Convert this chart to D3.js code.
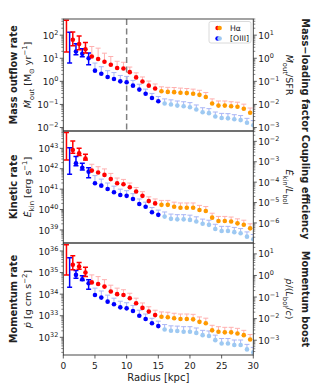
<!DOCTYPE html>
<html><head><meta charset="utf-8">
<script src="https://cdn.jsdelivr.net/npm/d3@7"></script>
<style>body{margin:0;background:#fff}svg{display:block}text{font-family:"DejaVu Sans",sans-serif;fill:#222}</style>
</head><body><svg id="c" width="318" height="389"></svg>
<script>
// ---------------- data ----------------
const haRadius = [0.5,1.5,2.5,3.5,4.5,5.5,6.5,7.5,8.5,9.5,10.5,11.5,12.5,13.5,14.5,15.5,16.5,17.5,18.5,19.5,20.5,21.5,22.5,23.5,24.5,25.5,26.5,27.5,28.5,29.5];
const o3Radius = [1,2,3,4,5,6,7,8,9,10,11,12,13,14,15,16,17,18,19,20,21,22,23,24,25,26,27,28,29,30];
const innerLimit = 15;      // kpc: inner (dark) vs outer (light) points
const dashRadius = 10;      // kpc: vertical dashed line
const SFR = 10;             // Msun/yr
const LBOL = 2.2e45;        // erg/s
const C_LIGHT = 3e10;       // cm/s
const xTicks = [0,5,10,15,20,25,30];

// Mass outflow rate [Msun/yr]
const haMout   = [89,63,41.7,24.5,12.0,9.3,7.1,5.2,3.8,3.6,2.5,1.48,0.98,0.65,0.49,0.37,0.35,0.34,0.32,0.31,0.29,0.26,0.21,0.11,0.089,0.089,0.083,0.079,0.065,0.044];
const haMoutHi = [437,138,93,48,32.3,27.4,16.6,11.9,7.4,6.7,4.15,2.34,1.55,1.03,0.77,0.58,0.55,0.54,0.51,0.49,0.46,0.41,0.33,0.174,0.141,0.141,0.131,0.125,0.103,0.070];
const haMoutLo = [18.6,34.7,23.4,16.7];
const o3Mout   = [29,19.5,15.5,10,2.9,2.14,1.55,1.26,1.0,0.91,0.65,0.44,0.29,0.19,0.138,0.110,0.100,0.089,0.083,0.076,0.060,0.046,0.042,0.030,0.026,0.025,0.023,0.021,0.016,0.0126];
const o3MoutHi = [135,42,25.7,16.7,6.2,4.3,2.9,2.4,1.8,1.64,1.1,0.75,0.46,0.30,0.22,0.174,0.158,0.141,0.131,0.120,0.095,0.072,0.066,0.047,0.041,0.040,0.036,0.033,0.025,0.020];
const o3MoutLo = [6.2,14.1,11.5,5.2];

// Kinetic rate [erg/s]
const haEkin   = [1.3e43,8.3e42,5.75e42,3.2e42,8.1e41,6.5e41,5.0e41,3.1e41,1.95e41,1.74e41,1.23e41,7.6e40,4.7e40,2.6e40,2.0e40,1.7e40,1.7e40,1.38e40,1.23e40,1.23e40,1.23e40,9.5e39,8.5e39,4.0e39,2.75e39,2.75e39,2.6e39,2.1e39,1.8e39,1.2e39];
const haEkinHi = [5.9e43,2.3e43,1.0e43,5.1e42,1.66e42,1.26e42,9.8e41,5.9e41,3.5e41,3.0e41,2.0e41,1.2e41,7.5e40,4.2e40,3.3e40,2.8e40,2.8e40,2.3e40,2.1e40,2.1e40,2.1e40,1.6e40,1.4e40,6.6e39,4.6e39,4.6e39,4.3e39,3.5e39,3.0e39,2.0e39];
const haEkinLo = [2.7e42,5.7e42,4.4e42,2.7e42];
const o3Ekin   = [2.4e42,1.86e42,1.12e42,7.2e41,1.95e41,1.48e41,1.02e41,7.1e40,5.2e40,4.7e40,3.3e40,1.86e40,1.38e40,7.4e39,5.5e39,4.5e39,3.5e39,3.3e39,3.3e39,3.1e39,2.6e39,2.0e39,1.78e39,1.12e39,8.9e38,8.9e38,7.8e38,6.9e38,4.7e38,3.5e38];
const o3EkinHi = [1.07e43,4.0e42,1.86e42,1.12e42,4.6e41,3.1e41,2.0e41,1.4e41,1.0e41,8.4e40,6.0e40,3.3e40,2.3e40,1.26e40,9.4e39,7.6e39,6.0e39,5.6e39,5.6e39,5.3e39,4.4e39,3.4e39,3.0e39,1.9e39,1.5e39,1.5e39,1.33e39,1.17e39,8.0e38,6.0e38];
const o3EkinLo = [5.4e41,1.4e42,8.7e41,3.6e41];

// Momentum rate [g cm s^-2]
const haPdot   = [3.9e35,2.3e35,1.9e35,1.0e35,3.5e34,2.95e34,2.24e34,1.32e34,1.0e34,9.1e33,6.5e33,3.8e33,2.3e33,1.55e33,1.07e33,8.9e32,8.5e32,7.6e32,7.1e32,7.1e32,6.8e32,5.2e32,4.5e32,2.1e32,1.8e32,1.7e32,1.7e32,1.5e32,1.26e32,7.9e31];
const haPdotHi = [1.95e36,6.0e35,2.9e35,1.78e35,7.8e34,6.5e34,4.7e34,2.6e34,1.9e34,1.6e34,1.1e34,6.5e33,3.9e33,2.6e33,1.8e33,1.5e33,1.45e33,1.3e33,1.2e33,1.2e33,1.16e33,8.8e32,7.7e32,3.6e32,3.1e32,2.9e32,2.9e32,2.6e32,2.1e32,1.35e32];
const haPdotLo = [7.8e34,1.35e35,1.44e35,6.5e34];
const o3Pdot   = [1.0e35,7.8e34,4.9e34,3.2e34,9.1e33,6.9e33,4.5e33,3.4e33,2.45e33,2.2e33,1.66e33,1.0e33,7.1e32,4.5e32,3.3e32,2.3e32,2.0e32,1.95e32,1.8e32,1.8e32,1.6e32,1.26e32,1.15e32,7.4e31,5.2e31,5.2e31,4.4e31,4.4e31,2.75e31,2.0e31];
const o3PdotHi = [4.8e35,1.23e35,7.1e34,4.6e34,1.9e34,1.4e34,9.0e33,6.5e33,4.7e33,4.0e33,3.0e33,1.8e33,1.2e33,7.6e32,5.6e32,3.9e32,3.4e32,3.3e32,3.1e32,3.1e32,2.7e32,2.1e32,1.96e32,1.26e32,8.8e31,8.8e31,7.5e31,7.5e31,4.7e31,3.4e31];
const o3PdotLo = [2.1e34,5.5e34,4.3e34,1.7e34];

// ---------------- layout / style ----------------
const svg = d3.select('#c');
const X0 = 63.3, X1 = 253.3, PH = 112;
const x = d3.scaleLinear().domain([0,30]).range([X0, X1]);
const COL = {ha:'#ff0000', haOut:'#ff9a00', haErr:'#ffb0b0', o3:'#0000ff', o3Out:'#9ec9f2', o3Err:'#aab6f6'};

const panels = [
  {top:19,  dom:[10**-2.15,10**2.7],  norm:SFR,          lexp:[-2,2],  rexp:[-3,1],
   ha:[haMout,haMoutHi,haMoutLo], o3:[o3Mout,o3MoutHi,o3MoutLo],
   lt:'Mass outflow rate', ll:[['Ṁ','i'],['out','sub'],[' [M','n'],['⊙','sub'],[' yr','n'],['−1','sup'],[']','n']],
   rt:'Mass−loading factor', rl:[['Ṁ','i'],['out','sub'],['/SFR','n']], dash:true, legend:true},
  {top:131, dom:[10**38.36,10**43.85], norm:LBOL,        lexp:[39,43], rexp:[-6,-2],
   ha:[haEkin,haEkinHi,haEkinLo], o3:[o3Ekin,o3EkinHi,o3EkinLo],
   lt:'Kinetic rate', ll:[['Ė','i'],['kin','sub'],[' [erg s','n'],['−1','sup'],[']','n']],
   rt:'Coupling efficiency', rl:[['Ė','i'],['kin','sub'],['/','n'],['L','i'],['bol','sub']]},
  {top:243, dom:[10**31.18,10**36.37], norm:LBOL/C_LIGHT, lexp:[32,36], rexp:[-3,1],
   ha:[haPdot,haPdotHi,haPdotLo], o3:[o3Pdot,o3PdotHi,o3PdotLo],
   lt:'Momentum rate', ll:[['ṗ','i'],[' [g cm s','n'],['−2','sup'],[']','n']],
   rt:'Momentum boost', rl:[['ṗ','i'],['/(','n'],['L','i'],['bol','sub'],['/','n'],['c','i'],[')','n']]}
];

function rich(sel, parts, size){
  let shift = 0;
  parts.forEach(([t,k]) => {
    const target = k==='sub' ? size*0.28 : k==='sup' ? -size*0.42 : 0;
    const ts = sel.append('tspan').attr('dy', (target-shift).toFixed(2))
       .attr('font-size', (k==='n' || k==='i') ? size : size*0.72).text(t);
    if (k === 'i') ts.attr('font-style', 'italic');
    shift = target;
  });
}
function expLabel(sel, e, size){
  sel.append('tspan').attr('font-size', size).text('10');
  sel.append('tspan').attr('font-size', size*0.72).attr('dy', -size*0.45)
     .text(String(e).replace('-', '−'));
}

function logAxis(g, scale, exps, side){
  const [d0, d1] = scale.domain();
  const lo = Math.floor(Math.log10(d0)), hi = Math.ceil(Math.log10(d1));
  const xa = side==='left' ? X0 : X1, dir = side==='left' ? -1 : 1;
  for (let e = lo; e <= hi; e++) {
    for (let m = 1; m <= 9; m++) {
      const v = m * 10**e;
      if (v < d0 || v > d1) continue;
      const yy = scale(v), len = m===1 ? 3.5 : 2;
      g.append('line').attr('x1', xa).attr('x2', xa + dir*len).attr('y1', yy).attr('y2', yy)
        .attr('stroke', '#333').attr('stroke-width', m===1 ? 0.8 : 0.6);
    }
  }
  for (let e = exps[0]; e <= exps[1]; e++) {
    const yy = scale(10**e);
    const t = g.append('text').attr('y', yy + 3.6)
      .attr('x', side==='left' ? X0 - 5 : X1 + 5)
      .attr('text-anchor', side==='left' ? 'end' : 'start');
    expLabel(t, e, 9);
  }
}

function series(g, y, radius, data, cDark, cOut, cErr){
  const [v, hi, lo] = data;
  v.forEach((val, i) => {
    const xx = x(radius[i]);
    const twoSided = i < lo.length;
    const y1 = twoSided ? y(lo[i]) : y(val), y2 = y(hi[i]);
    const c = twoSided ? cDark : cErr, w = twoSided ? 1.5 : 1;
    g.append('line').attr('x1', xx).attr('x2', xx).attr('y1', y1).attr('y2', y2).attr('stroke', c).attr('stroke-width', w);
    g.append('line').attr('x1', xx-2.5).attr('x2', xx+2.5).attr('y1', y2).attr('y2', y2).attr('stroke', c).attr('stroke-width', w);
    if (twoSided) g.append('line').attr('x1', xx-2.5).attr('x2', xx+2.5).attr('y1', y1).attr('y2', y1).attr('stroke', c).attr('stroke-width', w);
  });
  v.forEach((val, i) => {
    if (i === 0) return;
    g.append('circle').attr('cx', x(radius[i])).attr('cy', y(val)).attr('r', 2.3)
      .attr('fill', radius[i] <= innerLimit ? cDark : cOut);
  });
}

panels.forEach((p, pi) => {
  const y = d3.scaleLog().domain(p.dom).range([p.top + PH, p.top]);
  const yr = d3.scaleLog().domain([p.dom[0]/p.norm, p.dom[1]/p.norm]).range([p.top + PH, p.top]);
  const g = svg.append('g');
  const cid = 'clip' + pi;
  svg.append('clipPath').attr('id', cid).append('rect')
    .attr('x', X0).attr('y', p.top).attr('width', X1 - X0).attr('height', PH);
  const pg = g.append('g').attr('clip-path', `url(#${cid})`);
  if (p.dash) {
    pg.append('line').attr('x1', x(dashRadius)).attr('x2', x(dashRadius)).attr('y1', p.top).attr('y2', p.top + PH)
      .attr('stroke', '#808080').attr('stroke-width', 1.5).attr('stroke-dasharray', '6,3.5');
  }
  series(pg, y, o3Radius, p.o3, COL.o3, COL.o3Out, COL.o3Err);
  series(pg, y, haRadius, p.ha, COL.ha, COL.haOut, COL.haErr);
  g.append('rect').attr('x', X0).attr('y', p.top).attr('width', X1 - X0).attr('height', PH)
    .attr('fill', 'none').attr('stroke', '#333').attr('stroke-width', 0.9);
  logAxis(g, y, p.lexp, 'left');
  logAxis(g, yr, p.rexp, 'right');
  const cy = p.top + PH/2;
  g.append('text').attr('transform', `translate(16.5,${cy}) rotate(-90)`).attr('text-anchor', 'middle')
    .attr('font-size', 9.8).attr('font-weight', 'bold').text(p.lt);
  rich(g.append('text').attr('transform', `translate(31,${cy}) rotate(-90)`).attr('text-anchor', 'middle'), p.ll, 9.5);
  g.append('text').attr('transform', `translate(302,${cy}) rotate(90)`).attr('text-anchor', 'middle')
    .attr('font-size', 9.8).attr('font-weight', 'bold').text(p.rt);
  rich(g.append('text').attr('transform', `translate(286,${cy}) rotate(90)`).attr('text-anchor', 'middle'), p.rl, 9.5);

  if (p.legend) {
    const lg = g.append('g');
    lg.append('rect').attr('x', 209).attr('y', 21.5).attr('width', 42).attr('height', 21.5).attr('rx', 2)
      .attr('fill', '#fff').attr('fill-opacity', 0.85).attr('stroke', '#d0d0d0').attr('stroke-width', 0.8);
    const ent = [['Hα', COL.ha, COL.haOut, 28], ['[OIII]', COL.o3, COL.o3Out, 38.5]];
    ent.forEach(([t, c1, c2, yy]) => {
      lg.append('circle').attr('cx', 217.6).attr('cy', yy).attr('r', 2.3).attr('fill', c1);
      lg.append('circle').attr('cx', 219.6).attr('cy', yy).attr('r', 2.3).attr('fill', c2);
      lg.append('text').attr('x', 230).attr('y', yy + 2.8).attr('font-size', 7.8).text(t);
    });
  }
});

// x axis
const xb = 19 + 3*PH;
const xg = svg.append('g');
xTicks.forEach(t => {
  xg.append('line').attr('x1', x(t)).attr('x2', x(t)).attr('y1', xb).attr('y2', xb + 3.5).attr('stroke', '#333').attr('stroke-width', 0.8);
  xg.append('text').attr('x', x(t)).attr('y', xb + 13.5).attr('text-anchor', 'middle').attr('font-size', 9).text(t);
});
xg.append('text').attr('x', (X0 + X1)/2).attr('y', xb + 25.5).attr('text-anchor', 'middle').attr('font-size', 10).text('Radius [kpc]');
</script></body></html>
